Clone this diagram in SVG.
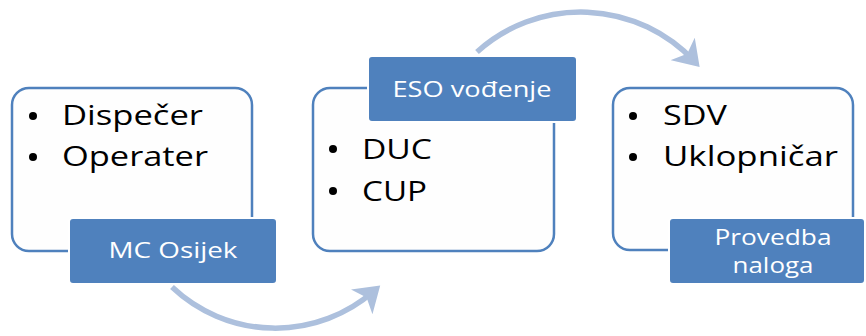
<svg xmlns="http://www.w3.org/2000/svg" width="866" height="336" viewBox="0 0 866 336">
<defs>
<marker id="ah" markerWidth="6" markerHeight="6" refX="3" refY="3" orient="auto" markerUnits="strokeWidth">
<path d="M0,0 L4.5,3 L0,6 L1.2,3 Z" fill="#adc0dd"/>
</marker>
</defs>
<style>
.box{fill:#fefefe;stroke:#4f81bd;stroke-width:2.5}
.lbl{fill:#4f81bd;stroke:#ffffff;stroke-width:2}
.t{font-family:"Open Sans","Noto Sans",sans-serif;font-size:28px;fill:#000000}
.w{font-family:"Open Sans","Noto Sans",sans-serif;font-size:21px;fill:#ffffff;text-anchor:middle}
.arc{fill:none;stroke:#adc0dd;stroke-width:5.5}
</style>
<rect width="866" height="336" fill="#ffffff"/>
<g id="connectors">
<path class="arc" d="M 172 287 A 150 150 0 0 0 374 291" marker-end="url(#ah)"/>
<path class="arc" d="M 477 52 A 155 155 0 0 1 694 61" marker-end="url(#ah)"/>
</g>
<g id="node1">
<rect class="box" x="12" y="88" width="240" height="163" rx="17"/>
<circle cx="33" cy="116" r="4"/>
<text class="t" x="62" y="125" textLength="141" lengthAdjust="spacingAndGlyphs">Dispečer</text>
<circle cx="33" cy="157" r="4"/>
<text class="t" x="62" y="166" textLength="146" lengthAdjust="spacingAndGlyphs">Operater</text>
<rect class="lbl" x="69" y="218" width="208" height="66" rx="4"/>
<text class="w" x="173" y="258" textLength="129" lengthAdjust="spacingAndGlyphs">MC Osijek</text>
</g>
<g id="node2">
<rect class="box" x="313" y="88" width="241" height="163" rx="17"/>
<circle cx="333" cy="149" r="4"/>
<text class="t" x="362" y="159" textLength="70" lengthAdjust="spacingAndGlyphs">DUC</text>
<circle cx="333" cy="191" r="4"/>
<text class="t" x="362" y="201" textLength="65" lengthAdjust="spacingAndGlyphs">CUP</text>
<rect class="lbl" x="368" y="56" width="209" height="66" rx="4"/>
<text class="w" x="472" y="97" textLength="159" lengthAdjust="spacingAndGlyphs">ESO vođenje</text>
</g>
<g id="node3">
<rect class="box" x="613" y="88" width="240" height="162" rx="17"/>
<circle cx="633" cy="116" r="4"/>
<text class="t" x="663" y="125" textLength="64" lengthAdjust="spacingAndGlyphs">SDV</text>
<circle cx="633" cy="157" r="4"/>
<text class="t" x="663" y="166" textLength="175" lengthAdjust="spacingAndGlyphs">Uklopničar</text>
<rect class="lbl" x="669" y="218" width="196" height="66" rx="4"/>
<text class="w" x="773" y="245" textLength="117" lengthAdjust="spacingAndGlyphs">Provedba</text>
<text class="w" x="773" y="273" textLength="81" lengthAdjust="spacingAndGlyphs">naloga</text>
</g>
</svg>
